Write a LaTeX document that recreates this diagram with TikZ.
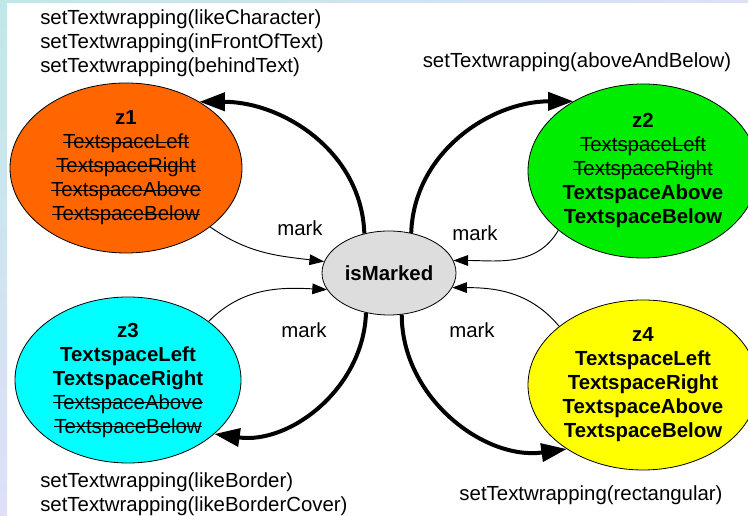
\documentclass[tikz,border=0pt]{standalone}
\usepackage{fontspec}
\setmainfont{Liberation Sans}
\usetikzlibrary{shapes.geometric,arrows.meta}
\definecolor{zorange}{RGB}{255,102,0}
\definecolor{zgreen}{RGB}{0,236,0}
\definecolor{zcyan}{RGB}{0,255,255}
\definecolor{zyellow}{RGB}{255,255,0}
\definecolor{zgray}{RGB}{221,221,221}
\definecolor{edgecyan}{RGB}{192,232,232}
\definecolor{edgelav}{RGB}{222,224,248}
\newcommand\strk[1]{{\setbox0\hbox{#1}\rlap{\vrule height 0.33em depth -0.28em width \wd0}\box0}}
\begin{document}
\begin{tikzpicture}[x=0.75pt,y=0.75pt,
    state/.style={ellipse,draw,line width=0.6pt,inner sep=0pt,align=center,font=\fontsize{15.3}{18}\selectfont},
    txt/.style={inner sep=0pt,font=\fontsize{15.3}{18}\selectfont},
    bigarrow/.style={line width=3pt,-{Triangle[length=19pt,width=13.5pt]}},
    thinarrow/.style={line width=0.7pt,-{Triangle[length=11pt,width=8pt]}}]
    \useasboundingbox (0,0) rectangle (748,516);
    \shade[top color=edgecyan,bottom color=edgelav] (0,0) rectangle (7,516);
    \shade[left color=edgecyan,right color=edgelav] (0,513) rectangle (748,516);

    \node[state,fill=zorange,minimum width=174pt,minimum height=127.5pt] (z1) at (126,348)
        {\textbf{z1}\\\strk{TextspaceLeft}\\\strk{TextspaceRight}\\\strk{TextspaceAbove}\\\strk{TextspaceBelow}};
    \node[state,fill=zgreen,minimum width=172.5pt,minimum height=130.5pt] (z2) at (643,345)
        {\textbf{z2}\\\strk{TextspaceLeft}\\\strk{TextspaceRight}\\\textbf{TextspaceAbove}\\\textbf{TextspaceBelow}};
    \node[state,fill=zgray,minimum width=100.5pt,minimum height=63pt] (marked) at (389,243)
        {\textbf{isMarked}};
    \node[state,fill=zcyan,minimum width=169.5pt,minimum height=124.5pt] (z3) at (128,136)
        {\textbf{z3}\\\textbf{TextspaceLeft}\\\textbf{TextspaceRight}\\\strk{TextspaceAbove}\\\strk{TextspaceBelow}};
    \node[state,fill=zyellow,minimum width=172.5pt,minimum height=127.5pt] (z4) at (643,131)
        {\textbf{z4}\\\textbf{TextspaceLeft}\\\textbf{TextspaceRight}\\\textbf{TextspaceAbove}\\\textbf{TextspaceBelow}};

    \node[txt,anchor=west,align=left] (wrap1) at (40,473)
        {setTextwrapping(likeCharacter)\\setTextwrapping(inFrontOfText)\\setTextwrapping(behindText)};
    \node[txt] (wrap2) at (577,454) {setTextwrapping(aboveAndBelow)};
    \node[txt,anchor=west,align=left] (wrap3) at (40,21.5)
        {setTextwrapping(likeBorder)\\setTextwrapping(likeBorderCover)};
    \node[txt] (wrap4) at (591,21) {setTextwrapping(rectangular)};

    \draw[bigarrow] (marked.122) to[out=92,in=0] (z1.42);
    \draw[bigarrow] (marked.61) to[out=88,in=180] (z2.135);
    \draw[bigarrow] (marked.240) to[out=-92,in=-8] (z3.-32);
    \draw[bigarrow] (marked.287) to[out=-90,in=188] (z4.220);

    \draw[thinarrow] (z1.-35) to[out=-35,in=173] (marked.170);
    \draw[thinarrow] (z2.215) to[out=-120,in=0] (marked.11);
    \draw[thinarrow] (z3.36) to[out=45,in=177] (marked.195);
    \draw[thinarrow] (z4.145) to[out=130,in=0] (marked.-13);

    \node[txt] (mark1) at (300,288) {mark};
    \node[txt] (mark2) at (475,283) {mark};
    \node[txt] (mark3) at (304,186) {mark};
    \node[txt] (mark4) at (472,186) {mark};
\end{tikzpicture}
\end{document}
